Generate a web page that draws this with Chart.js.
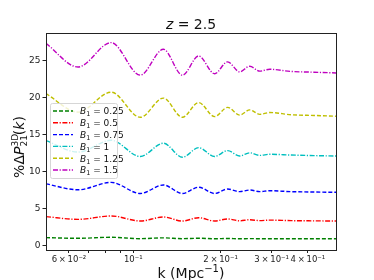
<!DOCTYPE html>
<html>
<head>
<meta charset="utf-8">
<script src="https://cdn.jsdelivr.net/npm/chart.js@4.4.0/dist/chart.umd.min.js"></script>
<style>
    html, body { margin: 0; padding: 0; background: #ffffff; }
</style>
</head>
<body>
<canvas id="myChart" width="374" height="280"></canvas>
<script>
"use strict";

const kValues = [0.05, 0.0645, 0.0839, 0.1057, 0.127, 0.1477, 0.168, 0.1907, 0.2115, 0.2327, 0.252, 0.273, 0.2955, 0.35, 0.42, 0.5];

const b1Values = ['0.25', '0.5', '0.75', '1', '1.25', '1.5'];

const deltaB025 = [1.03, 0.94, 1.08, 0.89, 1.0, 0.89, 0.95, 0.88, 0.92, 0.88, 0.9, 0.88, 0.89, 0.88, 0.88, 0.88];
const deltaB050 = [3.87, 3.5, 3.96, 3.28, 3.82, 3.28, 3.73, 3.28, 3.55, 3.3, 3.45, 3.33, 3.4, 3.33, 3.3, 3.28];
const deltaB075 = [8.3, 7.5, 8.5, 7.0, 8.15, 7.0, 7.85, 7.0, 7.6, 7.25, 7.47, 7.25, 7.38, 7.25, 7.2, 7.16];
const deltaB100 = [14.15, 12.6, 14.2, 12.0, 13.8, 11.9, 13.2, 12.0, 12.8, 12.07, 12.5, 12.15, 12.3, 12.2, 12.12, 12.07];
const deltaB125 = [20.5, 18.0, 20.7, 17.3, 19.9, 17.3, 19.3, 17.4, 18.65, 17.6, 18.3, 17.7, 17.95, 17.65, 17.55, 17.45];
const deltaB150 = [27.3, 24.1, 27.4, 23.0, 26.5, 23.0, 25.6, 23.2, 24.8, 23.45, 24.2, 23.55, 23.8, 23.5, 23.4, 23.3];

const yTicks = [0, 5, 10, 15, 20, 25];
const xTicks = [0.06, 0.07, 0.08, 0.09, 0.1, 0.2, 0.3, 0.4];
const xTickLabels = ['6\u2009×\u200910⁻²', '', '', '', '10⁻¹', '2\u2009×\u200910⁻¹', '3\u2009×\u200910⁻¹', '4\u2009×\u200910⁻¹'];

const seriesValues = [deltaB025, deltaB050, deltaB075, deltaB100, deltaB125, deltaB150];
const lineColors = ['#008000', '#ff0000', '#0000ff', '#00bfbf', '#bfbf00', '#bf00bf'];
const dashed = [4, 2];
const dashDot = [5, 1.6, 1.2, 1.6];
const lineDashes = [dashed, dashDot, dashed, dashDot, dashed, dashDot];

const FONT = "'DejaVu Sans', sans-serif";

const datasets = seriesValues.map((vals, i) => ({
    label: 'B1 = ' + b1Values[i],
    data: vals.map((v, j) => ({x: kValues[j], y: v})),
    borderColor: lineColors[i],
    borderDash: lineDashes[i],
    borderWidth: 1.4,
    pointRadius: 0,
    fill: false,
    cubicInterpolationMode: 'monotone'
}));

// draws runs of text with italic / sub / superscript parts
function drawRuns(ctx, runs, x, y) {
    let cx = x;
    runs.forEach((r) => {
        ctx.font = r.font;
        ctx.fillText(r.text, cx, y + (r.dy || 0));
        const w = ctx.measureText(r.text).width;
        if (!r.stack) cx += w;
    });
    return cx;
}
function runsWidth(ctx, runs) {
    let w = 0;
    runs.forEach((r) => {
        ctx.font = r.font;
        if (!r.stack) w += ctx.measureText(r.text).width;
    });
    return w;
}

const decorPlugin = {
    id: 'decor',
    afterDraw(chart) {
        const ctx = chart.ctx;
        const a = chart.chartArea;
        ctx.save();

        // frame
        ctx.strokeStyle = '#222';
        ctx.lineWidth = 1;
        ctx.setLineDash([]);
        ctx.strokeRect(Math.round(a.left) + 0.5, Math.round(a.top) + 0.5, Math.round(a.right - a.left), Math.round(a.bottom - a.top));

        ctx.fillStyle = '#111';
        ctx.textBaseline = 'alphabetic';
        ctx.textAlign = 'left';

        // title
        const titleRuns = [
            {text: 'z', font: 'italic 14px ' + FONT},
            {text: ' = 2.5', font: '14px ' + FONT}
        ];
        const tw = runsWidth(ctx, titleRuns);
        drawRuns(ctx, titleRuns, 191 - tw / 2, 29);

        // x title
        const xRuns = [
            {text: 'k (Mpc', font: '14px ' + FONT},
            {text: '−1', font: '10px ' + FONT, dy: -6},
            {text: ')', font: '14px ' + FONT}
        ];
        const xw = runsWidth(ctx, xRuns);
        drawRuns(ctx, xRuns, 191 - xw / 2, 278);

        // y title
        const yRuns = [
            {text: '%Δ', font: '14px ' + FONT},
            {text: 'P', font: 'italic 14px ' + FONT},
            {text: '3D', font: '9px ' + FONT, dy: -6, stack: true},
            {text: '21', font: '9px ' + FONT, dy: 3},
            {text: '(', font: '14px ' + FONT},
            {text: 'k', font: 'italic 14px ' + FONT},
            {text: ')', font: '14px ' + FONT}
        ];
        const yw = runsWidth(ctx, yRuns);
        ctx.save();
        ctx.translate(24, 147);
        ctx.rotate(-Math.PI / 2);
        drawRuns(ctx, yRuns, -yw / 2, 0);
        ctx.restore();

        // legend
        const lx = 50, ly = 103, lw = 67, lh = 75;
        ctx.fillStyle = 'rgba(255,255,255,0.8)';
        ctx.strokeStyle = '#d6d6d6';
        ctx.lineWidth = 1;
        ctx.beginPath();
        ctx.roundRect(lx + 0.5, ly + 0.5, lw, lh, 2);
        ctx.fill();
        ctx.stroke();

        b1Values.forEach((b, i) => {
            const ry = 111 + i * 11.8;
            ctx.strokeStyle = lineColors[i];
            ctx.lineWidth = 1.4;
            ctx.setLineDash(lineDashes[i]);
            ctx.beginPath();
            ctx.moveTo(53, ry);
            ctx.lineTo(73, ry);
            ctx.stroke();
            ctx.setLineDash([]);
            ctx.fillStyle = '#111';
            drawRuns(ctx, [
                {text: 'B', font: 'italic 9px ' + FONT},
                {text: '1', font: '6.5px ' + FONT, dy: 2},
                {text: ' = ' + b, font: '9px ' + FONT}
            ], 80, ry + 3.3);
        });

        ctx.restore();
    }
};

const ctx = document.getElementById('myChart');

const chart = new Chart(ctx, {
    type: 'line',
    data: { datasets: datasets },
    options: {
        responsive: false,
        animation: false,
        devicePixelRatio: 1,
        layout: { padding: { left: 0, right: 38, top: 33, bottom: 0 } },
        plugins: {
            legend: { display: false },
            title: { display: false },
            tooltip: { enabled: false }
        },
        scales: {
            x: {
                type: 'logarithmic',
                min: 0.05,
                max: 0.5,
                afterFit: (scale) => { scale.height = 30; },
                afterBuildTicks: (scale) => { scale.ticks = xTicks.map((v) => ({value: v})); },
                grid: { drawOnChartArea: false, drawTicks: true, tickLength: 3, color: '#222' },
                border: { display: false },
                ticks: {
                    autoSkip: false,
                    maxRotation: 0,
                    padding: 2,
                    color: '#222',
                    font: { family: FONT, size: 8.5 },
                    callback: (value, index) => xTickLabels[index]
                }
            },
            y: {
                type: 'linear',
                min: -0.64,
                max: 28.7,
                afterFit: (scale) => { scale.width = 46; },
                afterBuildTicks: (scale) => { scale.ticks = yTicks.map((v) => ({value: v})); },
                grid: { drawOnChartArea: false, drawTicks: true, tickLength: 3.5, color: '#222' },
                border: { display: false },
                ticks: {
                    padding: 2,
                    color: '#222',
                    font: { family: FONT, size: 9 }
                }
            }
        }
    },
    plugins: [decorPlugin]
});
</script>
</body>
</html>
